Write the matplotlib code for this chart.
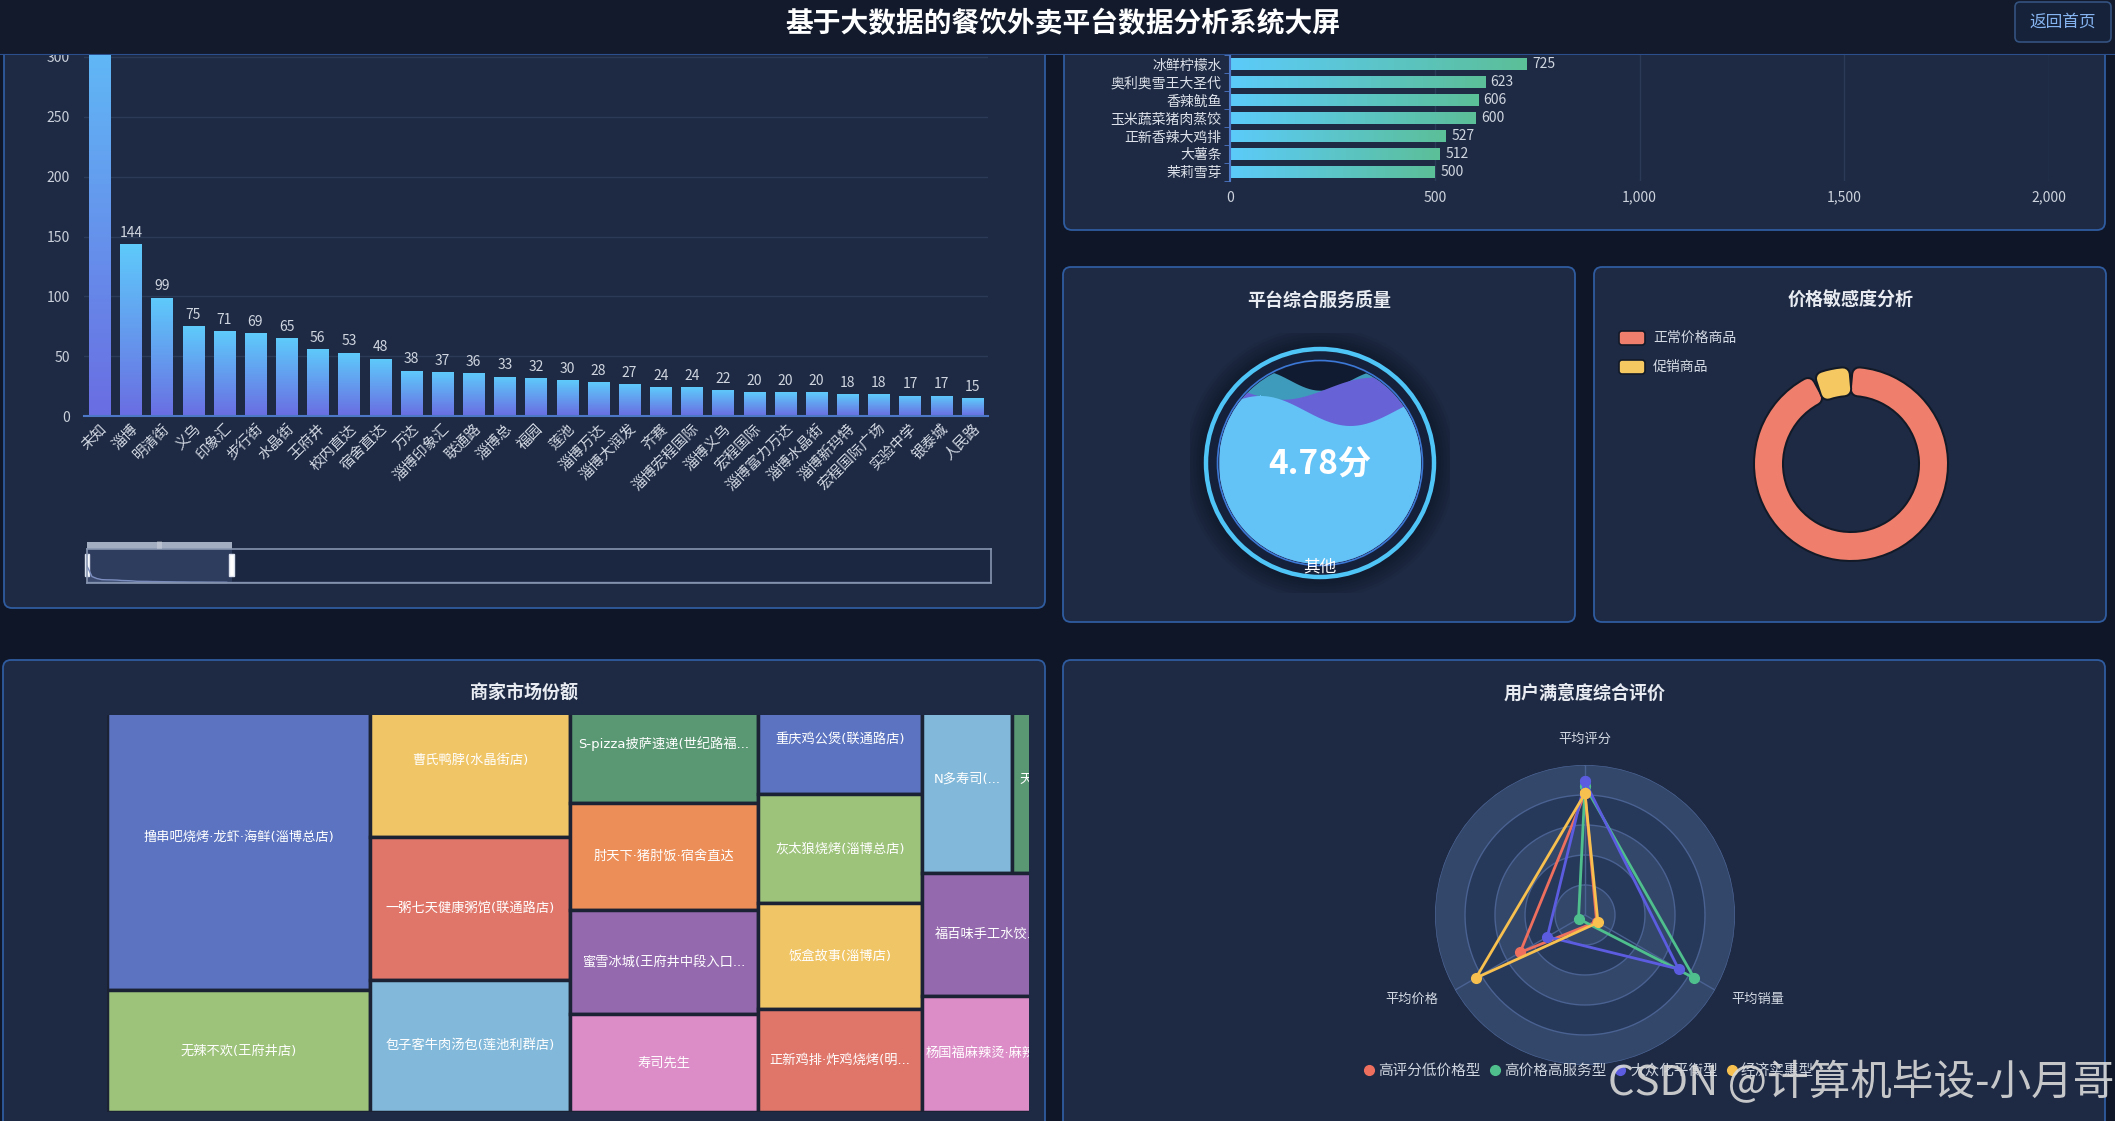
import numpy as np
import matplotlib
matplotlib.use('Agg')
import matplotlib.pyplot as plt
import matplotlib.transforms as mtransforms
from matplotlib.colors import LinearSegmentedColormap
from matplotlib.patches import FancyBboxPatch, Rectangle, Circle
from matplotlib.lines import Line2D
from matplotlib.ticker import FuncFormatter

plt.rcParams['font.family'] = ['Noto Sans CJK SC', 'DejaVu Sans']
plt.rcParams['axes.unicode_minus'] = False

W, H, DPI = 2115, 1121, 100

PAGE_BG = '#0f1627'
PANEL_BG = '#1e2a44'
PANEL_EDGE = '#2f5b9f'
TEXT = '#d3d9e3'
GRID = '#2c3a58'
AXIS = '#4d78c8'

# ---------------- data ----------------
title = '基于大数据的餐饮外卖平台数据分析系统大屏'

# merchants per business area (first bar runs off the top of the screen)
area_names = ['未知', '淄博', '明清街', '义乌', '印象汇', '步行街', '水晶街', '王府井',
              '校内直达', '宿舍直达', '万达', '淄博印象汇', '联通路', '淄博总', '福园', '莲池',
              '淄博万达', '淄博大润发', '齐赛', '淄博宏程国际', '淄博义乌', '宏程国际',
              '淄博富力万达', '淄博水晶街', '淄博新玛特', '宏程国际广场', '实验中学', '银泰城', '人民路']
area_counts = [380, 144, 99, 75, 71, 69, 65, 56, 53, 48, 38, 37, 36, 33, 32, 30, 28, 27,
               24, 24, 22, 20, 20, 20, 18, 18, 17, 17, 15]
zoom_end = 0.16  # dataZoom window end

# best selling dishes (bottom to top)
dish_names = ['茉莉雪芽', '大薯条', '正新香辣大鸡排', '玉米蔬菜猪肉蒸饺', '香辣鱿鱼', '奥利奥雪王大圣代', '冰鲜柠檬水']
dish_sales = [500, 512, 527, 600, 606, 623, 725]

service_score = 4.78
service_name = '其他'
wave_levels = [0.91, 0.87, 0.76]

price_types = ['正常价格商品', '促销商品']
price_share = [93.5, 6.5]

shop_names = ['撸串吧烧烤·龙虾·海鲜(淄博总店)', '无辣不欢(王府井店)', '曹氏鸭脖(水晶街店)',
              '一粥七天健康粥馆(联通路店)', '包子客牛肉汤包(莲池利群店)', 'S-pizza披萨速递(世纪路福...',
              '肘天下·猪肘饭·宿舍直达', '蜜雪冰城(王府井中段入口...', '寿司先生', '重庆鸡公煲(联通路店)',
              '灰太狼烧烤(淄博总店)', '饭盒故事(淄博店)', '正新鸡排·炸鸡烧烤(明...', 'N多寿司(...',
              '天...', '福百味手工水饺...', '杨国福麻辣烫·麻辣...']
shop_share = [802, 321, 303, 286, 265, 221, 203, 194, 185, 180, 179, 173, 170, 170, 75, 159, 151]

radar_axes = ['平均评分', '平均价格', '平均销量']
radar_names = ['高评分低价格型', '高价格高服务型', '大众化平衡型', '经济实惠型']
radar_values = [[0.81, 0.50, 0.09],
                [0.86, 0.05, 0.84],
                [0.89, 0.29, 0.72],
                [0.81, 0.84, 0.10]]

# ---------------- styles ----------------
tree_columns = [[[0], [1]], [[2], [3], [4]], [[5], [6], [7], [8]], [[9], [10], [11], [12]], [[13, 14], [15], [16]]]
pal = {'blue': '#5b73c0', 'green': '#9dc27a', 'yellow': '#f0c566', 'red': '#e0766a', 'lblue': '#82b9da',
       'dgreen': '#5a9873', 'orange': '#ec8e58', 'purple': '#9469ae', 'pink': '#dc8dc7'}
shop_colors = [pal[k] for k in ['blue', 'green', 'yellow', 'red', 'lblue', 'dgreen', 'orange', 'purple', 'pink',
                                'blue', 'green', 'yellow', 'red', 'lblue', 'dgreen', 'purple', 'pink']]
radar_colors = ['#ee6f5e', '#4fc08d', '#5b5ce0', '#f7c04f']
donut_colors = ['#ef7f6c', '#f5c862']

fig = plt.figure(figsize=(W / DPI, H / DPI), dpi=DPI)
fig.patch.set_facecolor(PAGE_BG)


def px_axes(x0, y0, x1, y1, **kw):
    return fig.add_axes([x0 / W, 1 - y1 / H, (x1 - x0) / W, (y1 - y0) / H], **kw)


# background panels
bg = px_axes(0, 0, W, H)
bg.set_xlim(0, W)
bg.set_ylim(H, 0)
bg.axis('off')
bg.set_zorder(0)


def panel(x0, y0, x1, y1):
    bg.add_patch(FancyBboxPatch((x0, y0), x1 - x0, y1 - y0, boxstyle='round,pad=0,rounding_size=8',
                                fc=PANEL_BG, ec=PANEL_EDGE, lw=1.3))


panel(4, 30, 1045, 608)
panel(1064, 30, 2105, 230)
panel(1063, 267, 1575, 622)
panel(1594, 267, 2106, 622)
panel(3, 660, 1045, 1150)
panel(1063, 660, 2105, 1150)

for cx, cy, t in [(1319, 300, '平台综合服务质量'), (1851, 300, '价格敏感度分析'),
                  (524, 693, '商家市场份额'), (1585, 693, '用户满意度综合评价')]:
    bg.text(cx, cy, t, ha='center', va='center', fontsize=13, fontweight='bold', color='#e8ecf2')

# header
hd = px_axes(0, 0, W, 55)
hd.set_zorder(5)
hd.set_xlim(0, W)
hd.set_ylim(55, 0)
hd.axis('off')
hd.add_patch(Rectangle((0, 0), W, 55, fc='#121a2c', ec='none'))
hd.axhline(54.5, color='#2a4f8c', lw=1.5)
hd.text(1063, 24, title, ha='center', va='center', fontsize=20, fontweight='bold', color='white')
hd.add_patch(FancyBboxPatch((2015, 2), 96, 40, boxstyle='round,pad=0,rounding_size=5',
                            fc='#16223a', ec='#34527f', lw=1.2))
hd.text(2063, 22, '返回首页', ha='center', va='center', fontsize=12, color='#86b4f0')

# ---------------- merchants per area (bar) ----------------
ax = px_axes(84, 55, 988, 416)
ax.set_zorder(1)
ax.set_facecolor('none')
xs = np.arange(len(area_names))
bars = ax.bar(xs, area_counts, width=0.68, color='none')
cmap_v = LinearSegmentedColormap.from_list('v', ['#6a6de2', '#5ecbfb'])
grad_v = np.linspace(0, 1, 256).reshape(-1, 1)
for b in bars:
    im = ax.imshow(grad_v, extent=(b.get_x(), b.get_x() + b.get_width(), 0, b.get_height()),
                   origin='lower', cmap=cmap_v, aspect='auto', zorder=2)
    im.set_clip_path(b)
ax.set_xlim(-0.5, len(area_names) - 0.5)
ax.set_ylim(0, 300 * (416 - 55) / (416 - 57))
ax.set_yticks(range(0, 301, 50))
ax.yaxis.grid(True, color=GRID, lw=1)
ax.set_axisbelow(True)
for s in ['top', 'right', 'left']:
    ax.spines[s].set_visible(False)
ax.spines['bottom'].set_color(AXIS)
ax.spines['bottom'].set_linewidth(1.5)
ax.spines['bottom'].set_zorder(3)
ax.tick_params(axis='y', length=0, labelsize=10, labelcolor='#c9d0db', pad=10)
ax.set_xticks(xs)
ax.set_xticklabels(area_names, rotation=45, ha='right', rotation_mode='anchor', fontsize=10.5, color=TEXT)
ax.tick_params(axis='x', length=0, pad=4)
for t in ax.bar_label(bars, labels=[str(v) for v in area_counts], padding=3, fontsize=10, color='#d0d6e0'):
    t.set_clip_on(True)

# data zoom slider
sl = px_axes(87, 549, 991, 583)
sl.set_zorder(1)
n_total = len(area_names) / zoom_end
sl.set_xlim(0, n_total)
sl.set_ylim(0, 2 * max(area_counts))
sl.set_facecolor('#1b2640')
sl.fill_between(xs, area_counts, color='#56668c', alpha=0.6, lw=0)
sl.plot(xs, area_counts, color='#7d8fc0', lw=1)
sl.fill_between([xs[-1], n_total], 0, area_counts[-1], color='#56668c', alpha=0.6, lw=0)
sl.axhline(area_counts[-1], color='#6f7fa8', lw=1)
sl.add_patch(Rectangle((0, 0), len(area_names), 2 * max(area_counts), fc='#3b4b72', alpha=0.6, ec='none'))
blend = mtransforms.blended_transform_factory(sl.transData, sl.transAxes)
sl.add_patch(Rectangle((0, 1.0), len(area_names), 0.22, transform=blend, clip_on=False, fc='#a2adc2', ec='none'))
sl.text(len(area_names) / 2, 1.11, '|||', transform=blend, ha='center', va='center', fontsize=5, color='white')
for hx in [0, len(area_names)]:
    sl.add_patch(Rectangle((hx - 0.5, 0.2), 1.0, 0.65, transform=blend, clip_on=False, fc='white', ec='#dde3ee'))
sl.set_xticks([])
sl.set_yticks([])
for s in sl.spines.values():
    s.set_color('#8795b0')
    s.set_linewidth(1.2)

# ---------------- top dishes (horizontal bar) ----------------
ah = px_axes(1230, 55, 2049, 181)
ah.set_zorder(1)
ah.set_facecolor('none')
ys = np.arange(len(dish_names))
hb = ah.barh(ys, dish_sales, height=0.72, color='none')
cmap_h = LinearSegmentedColormap.from_list('h', ['#5ccbfa', '#5bbf98'])
grad_h = np.linspace(0, 1, 256).reshape(1, -1)
for b in hb:
    im = ah.imshow(grad_h, extent=(0, b.get_width(), b.get_y(), b.get_y() + b.get_height()),
                   origin='lower', cmap=cmap_h, aspect='auto', zorder=2)
    im.set_clip_path(b)
ah.set_xlim(0, 2000)
ah.set_ylim(-0.5, len(dish_names) - 0.5)
ah.set_xticks([0, 500, 1000, 1500, 2000])
ah.xaxis.set_major_formatter(FuncFormatter(lambda v, p: f'{v:,.0f}'))
ah.xaxis.grid(True, color=GRID, lw=1)
ah.set_axisbelow(True)
ah.tick_params(axis='x', length=0, labelsize=10, labelcolor='#cdd3dd', pad=7)
ah.set_yticks(ys)
ah.set_yticklabels(dish_names, fontsize=10, color='#dde2ea')
ah.set_yticks(np.arange(-0.5, len(dish_names)), minor=True)
ah.tick_params(axis='y', which='major', length=0, pad=6)
ah.tick_params(axis='y', which='minor', length=4, color=AXIS)
for s in ['top', 'right', 'bottom']:
    ah.spines[s].set_visible(False)
ah.spines['left'].set_color(AXIS)
ah.spines['left'].set_linewidth(1.5)
ah.bar_label(hb, padding=4, fontsize=10, color='#d0d6e0')

# ---------------- service quality (liquid fill) ----------------
ag = px_axes(1190, 333, 1450, 593)
ag.set_zorder(1)
ag.set_xlim(-130, 130)
ag.set_ylim(-130, 130)
ag.axis('off')
for r in range(136, 114, -3):
    ag.add_patch(Circle((0, 0), r, fc='#0a1120', ec='none', alpha=0.09))
ag.add_patch(Circle((0, 0), 112, fc='#15203a', ec='none'))
ag.add_patch(Circle((0, 0), 114, fill=False, ec='#4fc4f6', lw=3.2))
R = 101
ag.add_patch(Circle((0, 0), R, fc='#101a30', ec='none'))
clip = Circle((0, 0), R, transform=ag.transData)
wx = np.linspace(-R, R, 400)
waves = [(wave_levels[0], 10, 120, 60, '#3f9bbb'),
         (wave_levels[1], 11, 180, 52, '#6762d6'),
         (wave_levels[2], 15, 180, -60, '#63c3f7')]
for lvl, amp, lam, crest, col in waves:
    wy = -R + 2 * R * lvl + amp * np.cos(2 * np.pi * (wx - crest) / lam)
    pc = ag.fill_between(wx, -R, wy, color=col, lw=0)
    pc.set_clip_path(clip)
ag.add_patch(Circle((0, 0), 102.5, fill=False, ec='#3c78d6', lw=1.2))
ag.text(0, -2, f'{service_score}分', ha='center', va='center', fontsize=24, fontweight='bold', color='white')
ag.text(0, -104, service_name, ha='center', va='center', fontsize=12, color='white')

# ---------------- price sensitivity (donut) ----------------
ad = px_axes(1751, 364, 1951, 564)
ad.set_zorder(1)
pad = 5.2
dark, _ = ad.pie(price_share, startangle=90, counterclock=False, radius=0.90, colors=['#121a28'] * 2,
                 wedgeprops=dict(width=0.15, lw=11.5, ec='#121a28', joinstyle='round'))
cols, _ = ad.pie(price_share, startangle=90, counterclock=False, radius=0.90, colors=donut_colors,
                 wedgeprops=dict(width=0.15, lw=8.6, joinstyle='round'))
for i, (d, c) in enumerate(zip(dark, cols)):
    for w in (d, c):
        w.set_theta1(w.theta1 + pad)
        w.set_theta2(w.theta2 - pad)
    c.set_edgecolor(c.get_facecolor())
    d.set_zorder(2 * i + 1)
    c.set_zorder(2 * i + 2)
ad.set_xlim(-1, 1)
ad.set_ylim(-1, 1)
ad.axis('off')
for i, (name, col) in enumerate(zip(price_types, donut_colors)):
    y0 = 331 + i * 29
    bg.add_patch(FancyBboxPatch((1619, y0), 26, 14, boxstyle='round,pad=0,rounding_size=3',
                                fc=col, ec='#121a28', lw=1.2))
    bg.text(1653, y0 + 7, name, ha='left', va='center', fontsize=10, color=TEXT)

# ---------------- merchant share (treemap) ----------------
TREE_W, TREE_H, TREE_TOP = 945, 427, 30
at = px_axes(107, 715, 1029, 1112)
at.set_zorder(1)
at.set_xlim(0, 922)
at.set_ylim(TREE_H, TREE_TOP)
at.axis('off')
total = sum(shop_share)
cx = 0
for col in tree_columns:
    col_sum = sum(shop_share[i] for row in col for i in row)
    cw = TREE_W * col_sum / total
    cy = 0
    for row in col:
        row_sum = sum(shop_share[i] for i in row)
        rh = TREE_H * row_sum / col_sum
        rx = cx
        for i in row:
            w = cw * shop_share[i] / row_sum
            at.add_patch(Rectangle((rx, cy), w, rh, fc=shop_colors[i], ec='#1a2234', lw=2.5))
            # latin font first so that "·" and brackets stay narrow
            at.text(rx + w / 2, cy + rh / 2, shop_names[i], ha='center', va='center',
                    fontsize=9.5, color='white', clip_on=True,
                    family=['DejaVu Sans', 'Noto Sans CJK SC'])
            rx += w
        cy += rh
    cx += cw

# ---------------- satisfaction (radar) ----------------
RC = (1585, 915)
RR = 150
ar = fig.add_axes([(RC[0] - RR) / W, 1 - (RC[1] + RR) / H, 2 * RR / W, 2 * RR / H], projection='polar')
ar.set_zorder(1)
ar.set_facecolor('none')
ar.set_theta_zero_location('N')
ar.set_theta_direction(1)
ar.set_ylim(0, 1)
ar.set_xticks([])
ar.set_yticks([])
ar.grid(False)
ar.spines['polar'].set_visible(False)
band_cols = ['#33476a', '#27395a', '#33476a', '#27395a', '#33476a']
for k, r0 in enumerate(np.arange(0, 1, 0.2)):
    ar.bar(0, 0.2, width=2 * np.pi, bottom=r0, color=band_cols[k], ec='none', zorder=0)
th = np.linspace(0, 2 * np.pi, 361)
for r in np.arange(0.2, 1.01, 0.2):
    ar.plot(th, np.full_like(th, r), color='#4a6292', lw=1, zorder=1)
angles = np.deg2rad([0, 120, 240])
for a in angles:
    ar.plot([a, a], [0, 1], color='#4a6292', lw=1, zorder=1)
for name, vals, col in zip(radar_names, radar_values, radar_colors):
    ar.plot(np.r_[angles, angles[0]], np.r_[vals, vals[0]], color=col, lw=2, marker='o', ms=7,
            zorder=3, clip_on=False)
ar.text(angles[0], 1.17, radar_axes[0], ha='center', va='center', fontsize=9.5, color=TEXT)
ar.text(angles[1], 1.13, radar_axes[1], ha='right', va='center', fontsize=9.5, color=TEXT)
ar.text(angles[2], 1.13, radar_axes[2], ha='left', va='center', fontsize=9.5, color=TEXT)

handles = [Line2D([], [], ls='none', marker='o', ms=7, color=c) for c in radar_colors]
fig.legend(handles, radar_names, loc='center', bbox_to_anchor=(1589 / W, 1 - 1071 / H), ncol=4,
           frameon=False, fontsize=10.5, labelcolor='#cfd5df', handlelength=0.7, handletextpad=0.3,
           columnspacing=0.6)

# watermark of the screenshot
fig.text(1608 / W, 1 - 1083 / H, 'CSDN @计算机毕设-小月哥', ha='left', va='center', fontsize=30,
         color='#d9d9d9', alpha=0.9, zorder=20)

fig.savefig('out.png', dpi=DPI, facecolor=fig.get_facecolor())
